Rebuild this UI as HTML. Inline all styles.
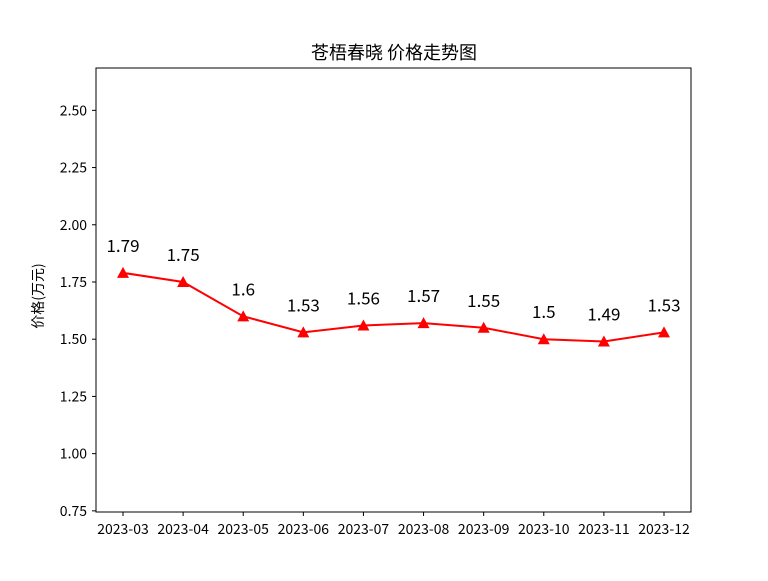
<!DOCTYPE html>
<html><head><meta charset="utf-8"><style>
body{margin:0;background:#fff;}
svg text{font-family:"WenQuanYi Zen Hei","Noto Sans CJK SC","Liberation Sans",sans-serif;}
</style></head><body>
<svg id="chart" width="768" height="576" xmlns="http://www.w3.org/2000/svg">
<rect width="768" height="576" fill="#fff"/>
<text x="394" y="59" text-anchor="middle" font-size="18">苍梧春晓 价格走势图</text>
<text transform="translate(43,296) rotate(-90)" text-anchor="middle" font-size="14">价格(万元)</text>
<g id="axes"></g>
<g id="marks"></g>
<rect x="96" y="68" width="595" height="444" fill="none" stroke="#000" stroke-width="1"/>
</svg>
<script>
const categories=["2023-03","2023-04","2023-05","2023-06","2023-07","2023-08","2023-09","2023-10","2023-11","2023-12"];
const prices=[1.79,1.75,1.6,1.53,1.56,1.57,1.55,1.5,1.49,1.53];
const priceLabels=["1.79","1.75","1.6","1.53","1.56","1.57","1.55","1.5","1.49","1.53"];
const yTicks=[0.75,1.00,1.25,1.50,1.75,2.00,2.25,2.50];
const yMin=0.745,yMax=2.685;
const L=96,R=691,T=68,B=512;
const NS="http://www.w3.org/2000/svg";
function x(i){const pad=27;return L+pad+i*(R-L-2*pad)/(categories.length-1);}
function y(v){return B-(v-yMin)/(yMax-yMin)*(B-T);}
function mk(t,a,p){const e=document.createElementNS(NS,t);for(const k in a)e.setAttribute(k,a[k]);p.appendChild(e);return e;}
const axes=document.getElementById('axes'),marks=document.getElementById('marks');
yTicks.forEach(v=>{
 const l=mk('line',{x1:L-4,x2:L,y1:y(v),y2:y(v),stroke:'#000'},axes);
 
 
 const t=mk('text',{x:L-9,y:y(v)+5,'text-anchor':'end','font-size':'14'},axes);
 
 
 t.textContent=v.toFixed(2);
});
categories.forEach((c,i)=>{
 const l=mk('line',{x1:x(i),x2:x(i),y1:B,y2:B+4,stroke:'#000'},axes);
 
 
 const t=mk('text',{x:x(i),y:B+22,'text-anchor':'middle','font-size':'14'},axes);
 
 
 t.textContent=c;
});
const pl=mk('polyline',{points:prices.map((v,i)=>x(i)+','+y(v)).join(' '),fill:'none',stroke:'#ff0000','stroke-width':'2'},marks);


prices.forEach((v,i)=>{
 const cx=x(i),cy=y(v);
 const m=mk('polygon',{points:`${cx},${cy-6} ${cx-6},${cy+5} ${cx+6},${cy+5}`,fill:'#ff0000'},marks);
 
 
 const t=mk('text',{x:cx,y:cy-21,'text-anchor':'middle','font-size':'17'},marks);
 
 
 t.textContent=priceLabels[i];
});
</script>
</body></html>
